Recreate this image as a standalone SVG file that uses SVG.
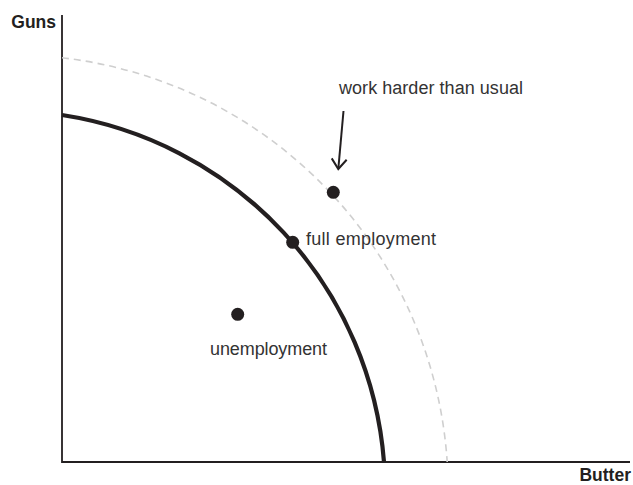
<svg xmlns="http://www.w3.org/2000/svg" width="633" height="485" viewBox="0 0 633 485">
<style>
.axis{fill:none;stroke:#231f20;stroke-width:1.8}
.ppf{fill:none;stroke:#231f20;stroke-width:4.2}
.ppf2{fill:none;stroke:#cfcfcf;stroke-width:1.6;stroke-dasharray:7 5}
.dot{fill:#231f20}
.lbl{font-family:"Liberation Sans",Arial,sans-serif;font-size:18px;fill:#333}
.ax{font-family:"Liberation Sans",Arial,sans-serif;font-size:17.5px;font-weight:bold;fill:#231f20}
.arrow{fill:none;stroke:#231f20;stroke-width:2}
</style>
<defs>
<marker id="vhead" markerUnits="userSpaceOnUse" markerWidth="20" markerHeight="20" viewBox="-12 -10 14 20" refX="0" refY="0" orient="auto">
<path d="M-10,-7.5 L0,0 L-10,7.5" fill="none" stroke="#231f20" stroke-width="2"/>
</marker>
</defs>
<g id="axes">
<path class="axis" d="M62,15 V462 H630"/>
<text class="ax" x="56" y="28" text-anchor="end">Guns</text>
<text class="ax" x="631" y="481" text-anchor="end">Butter</text>
</g>
<g id="curves">
<path id="outer-ppf" class="ppf2" d="M62,57.8 A435.5,435.5 0 0 1 447.2,462"/>
<path id="ppf" class="ppf" d="M62,115 A381,381 0 0 1 384,462"/>
</g>
<g id="connectors">
<path class="arrow" d="M343.5,111 L338.3,169" marker-end="url(#vhead)"/>
</g>
<g id="work-harder">
<circle class="dot" cx="333.3" cy="192.3" r="6.5"/>
<text class="lbl" x="339" y="94" textLength="184" lengthAdjust="spacing">work harder than usual</text>
</g>
<g id="full-employment">
<circle class="dot" cx="292.7" cy="242.3" r="6.5"/>
<text class="lbl" x="306" y="245" textLength="130" lengthAdjust="spacing">full employment</text>
</g>
<g id="unemployment">
<circle class="dot" cx="237.7" cy="314.3" r="6.5"/>
<text class="lbl" x="210" y="355" textLength="117" lengthAdjust="spacing">unemployment</text>
</g>
</svg>
